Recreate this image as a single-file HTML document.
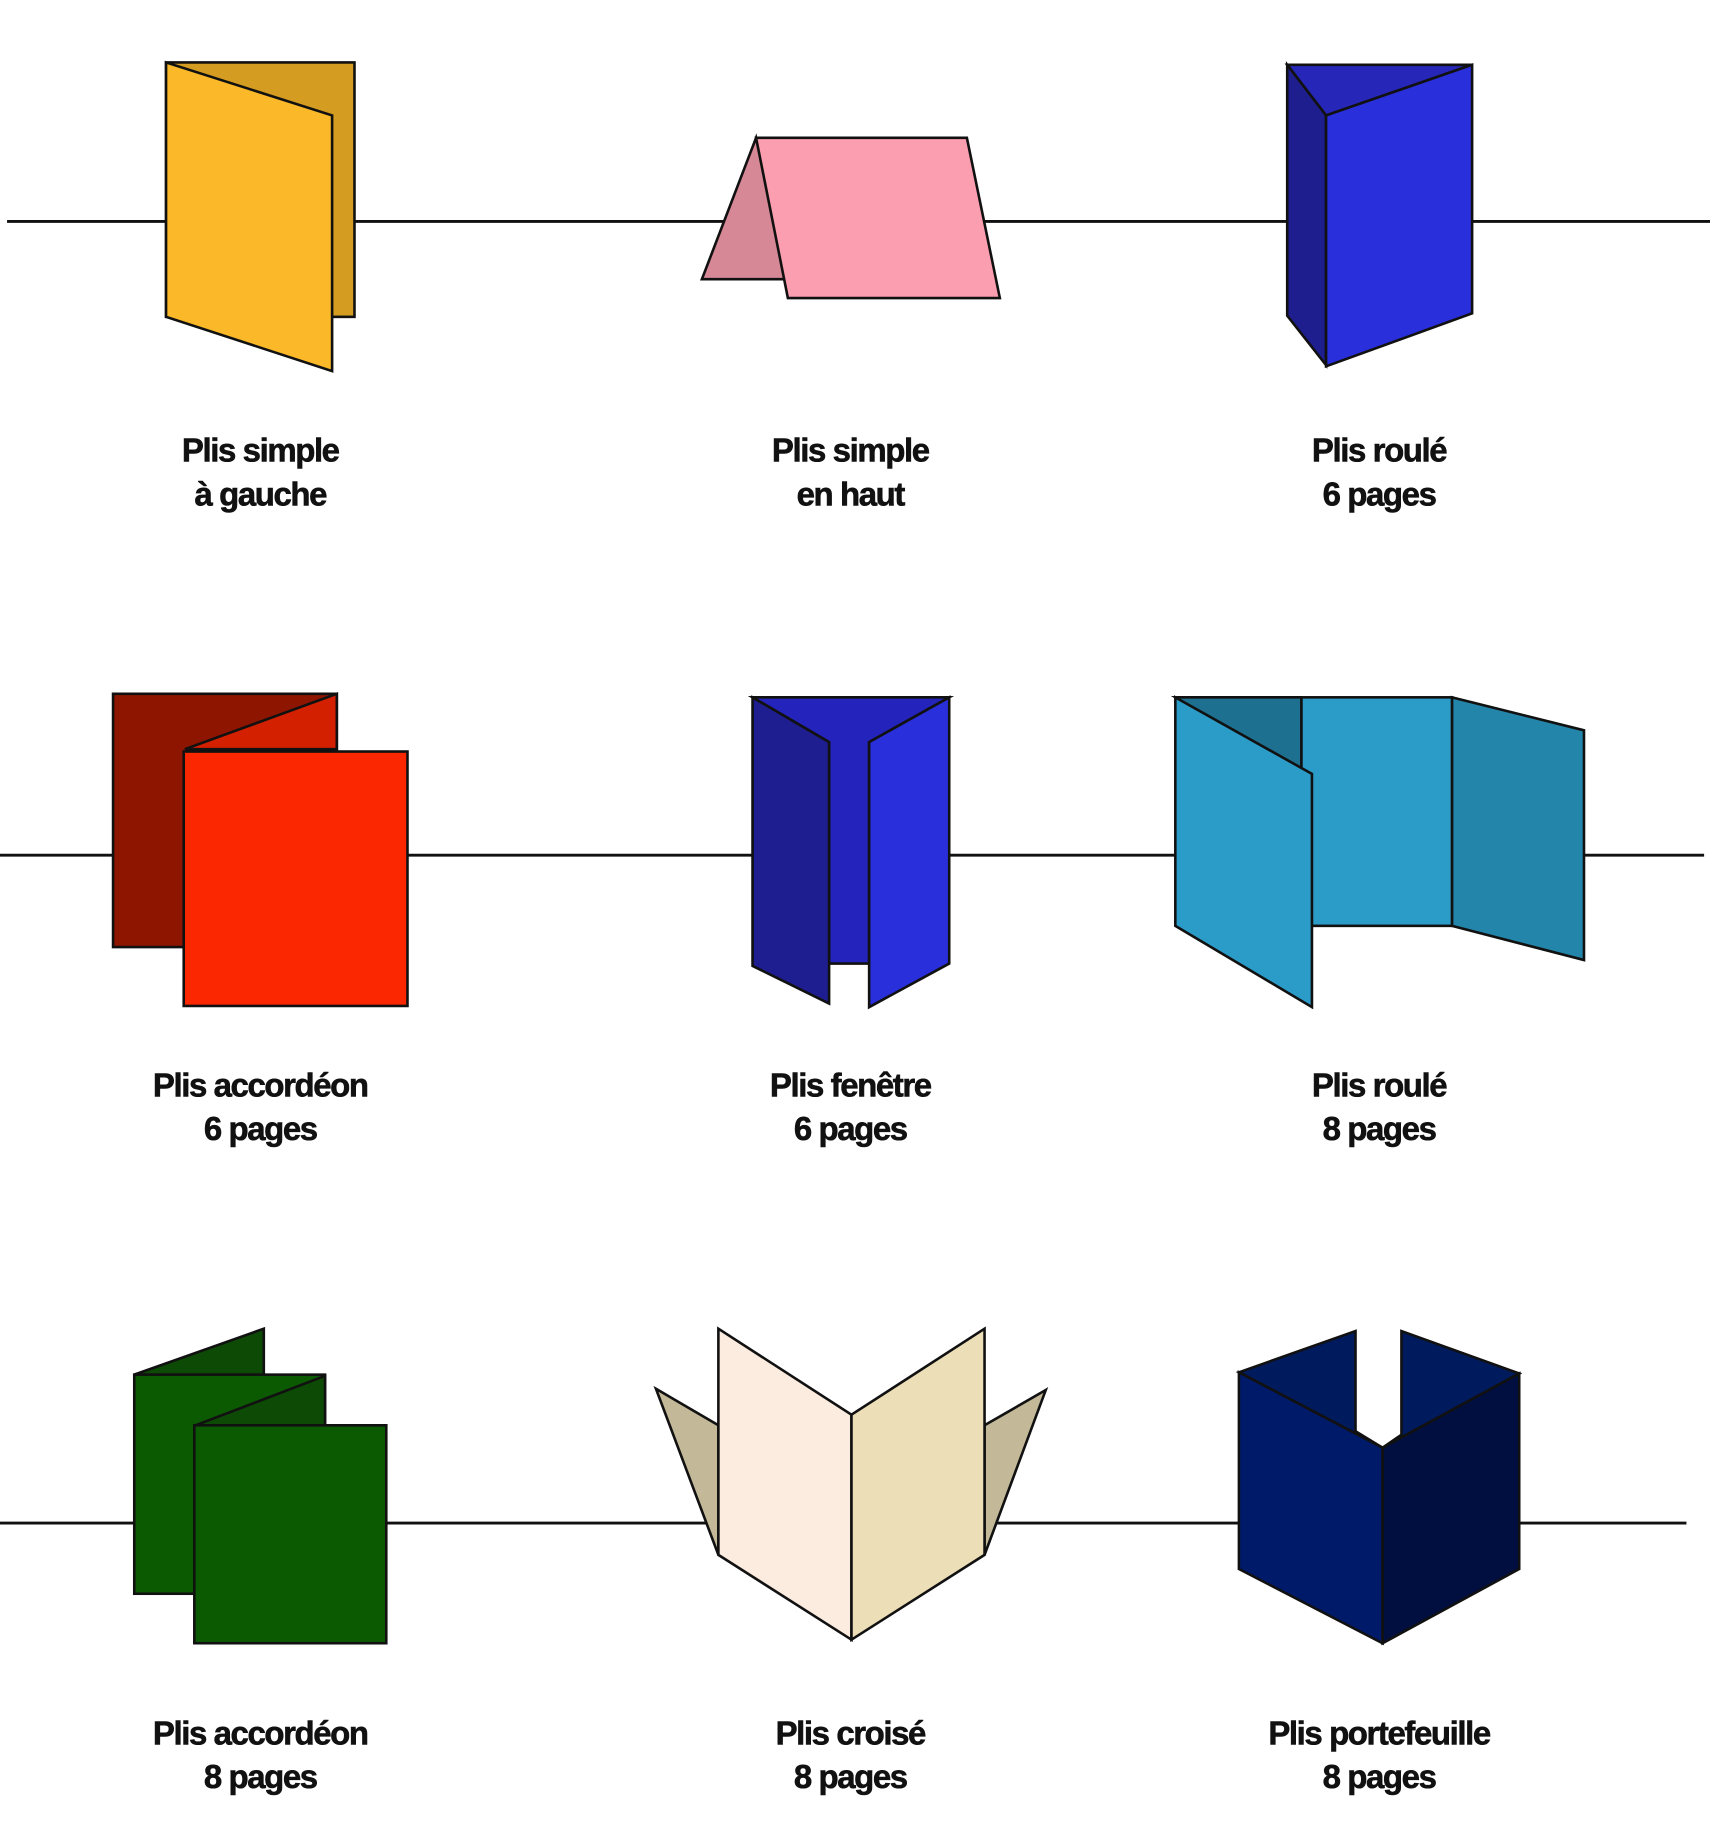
<!DOCTYPE html>
<html><head><meta charset="utf-8"><style>html,body{margin:0;padding:0;background:#fff}svg{display:block}</style></head><body>
<svg width="1710" height="1847" viewBox="0 0 1452 1568" preserveAspectRatio="none" xmlns="http://www.w3.org/2000/svg">
<g stroke="#111" stroke-width="2.5" fill="none">
<line x1="6" y1="188" x2="1452" y2="188"/>
<line x1="0" y1="726" x2="1447" y2="726"/>
<line x1="0" y1="1293" x2="1432" y2="1293"/>
</g>
<g stroke="#111" stroke-width="2.2" stroke-linejoin="miter">
<rect x="141" y="53" width="160" height="216" fill="#d49c20"/>
<polygon points="141,53 282,98 282,315 141,269" fill="#fbb829"/>
<polygon points="642,117 596,237 668,237" fill="#d78897"/>
<polygon points="642,117 821,117 849,253 669,253" fill="#fb9eb0"/>
<polygon points="1093,55 1250,55 1126,98" fill="#2626b8"/>
<polygon points="1093,55 1126,98 1126,310 1093,268" fill="#1e1e8e"/>
<polygon points="1126,98 1250,55 1250,266 1126,311" fill="#2a2fdc"/>
<rect x="96" y="589" width="190" height="215" fill="#8e1500"/>
<polygon points="286,589 157,636 286,636" fill="#d22000"/>
<rect x="156" y="638" width="190" height="216" fill="#fb2700"/>
<polygon points="639,592 806,592 738,630 738,818 704,818 704,630" fill="#2424bc"/>
<polygon points="639,592 704,630 704,852 639,820" fill="#1e1e90"/>
<polygon points="806,592 738,630 738,855 806,818" fill="#2a2fdc"/>
<rect x="1105" y="592" width="128" height="194" fill="#2b9cc8"/>
<polygon points="1233,592 1345,620 1345,815 1233,786" fill="#2385aa"/>
<polygon points="998,592 1105,592 1105,660" fill="#1e7090"/>
<polygon points="998,592 1114,657 1114,855 998,786" fill="#2b9cc8"/>
<polygon points="114,1167 224,1128 224,1167" fill="#0c4a05"/>
<rect x="114" y="1167" width="162" height="186" fill="#0b5a02"/>
<polygon points="166,1210 276,1168 276,1210" fill="#0c4a05"/>
<rect x="165" y="1210" width="163" height="185" fill="#0b5a02"/>
<polygon points="557,1179 610,1210 610,1320" fill="#c3b898"/>
<polygon points="888,1180 836,1210 836,1320" fill="#c3b898"/>
<polygon points="610,1128 723,1201 723,1392 610,1320" fill="#fcecdf"/>
<polygon points="836,1128 723,1201 723,1392 836,1320" fill="#ecdfb8"/>
<polygon points="1052,1165 1151,1130 1151,1215 1174,1229" fill="#001a5e"/>
<polygon points="1190,1130 1290,1166 1174,1229 1190,1218" fill="#001a5e"/>
<polygon points="1052,1165 1174,1229 1174,1395 1052,1332" fill="#001a6a"/>
<polygon points="1290,1166 1174,1229 1174,1395 1290,1332" fill="#000f40"/>
</g>
<g font-family="Liberation Sans, sans-serif" font-weight="bold" font-size="28" text-anchor="middle" fill="#111" stroke="#111" stroke-width="0.5" letter-spacing="-1.2">
<text x="221" y="392">Plis simple</text><text x="221" y="429">à gauche</text>
<text x="722" y="392">Plis simple</text><text x="722" y="429">en haut</text>
<text x="1171" y="392">Plis roulé</text><text x="1171" y="429">6 pages</text>
<text x="221" y="931">Plis accordéon</text><text x="221" y="968">6 pages</text>
<text x="722" y="931">Plis fenêtre</text><text x="722" y="968">6 pages</text>
<text x="1171" y="931">Plis roulé</text><text x="1171" y="968">8 pages</text>
<text x="221" y="1481">Plis accordéon</text><text x="221" y="1518">8 pages</text>
<text x="722" y="1481">Plis croisé</text><text x="722" y="1518">8 pages</text>
<text x="1171" y="1481">Plis portefeuille</text><text x="1171" y="1518">8 pages</text>
</g>
</svg>
</body></html>
